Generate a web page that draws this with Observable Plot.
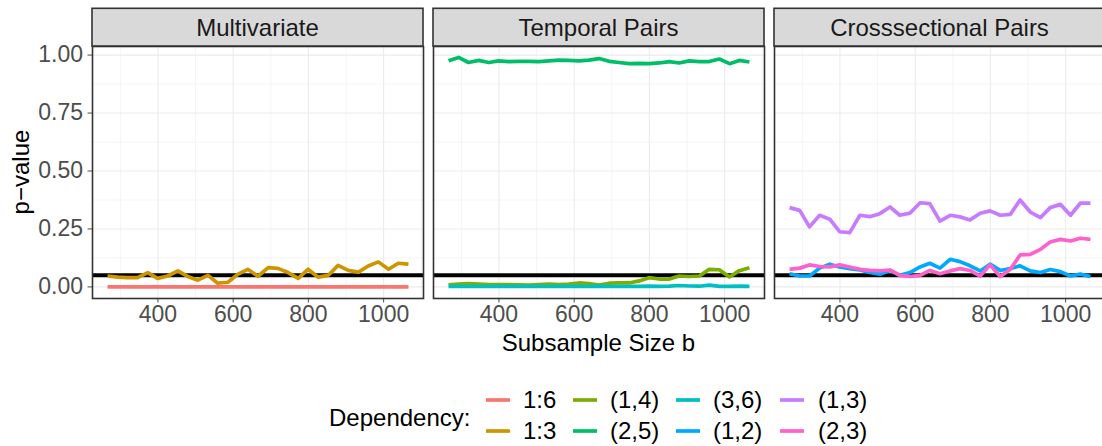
<!DOCTYPE html>
<html>
<head>
<meta charset="utf-8">
<script src="https://cdn.jsdelivr.net/npm/d3@7"></script>
<script src="https://cdn.jsdelivr.net/npm/@observablehq/plot@0.6"></script>
<style>
  html, body { margin: 0; padding: 0; background: #ffffff; }
  #chart { position: relative; width: 1102px; height: 446px; overflow: hidden; background: #ffffff; }
  #chart svg { position: absolute; }
</style>
</head>
<body>
<div id="chart"></div>
<script>
// ---------------- data ----------------
const panels = ["Multivariate", "Temporal Pairs", "Crosssectional Pairs"];
const deps = ["1:6", "1:3", "(1,4)", "(2,5)", "(3,6)", "(1,2)", "(1,3)", "(2,3)"];
const depColors = ["#F8766D", "#CD9600", "#7CAE00", "#00BE67", "#00BFC4", "#00A9FF", "#C77CFF", "#FF61CC"];

const subsampleSize = [266, 293, 319, 346, 373, 399, 426, 453, 479, 506, 533, 559, 586, 613, 639, 666,
                       693, 719, 746, 773, 799, 826, 853, 879, 906, 933, 959, 986, 1013, 1039, 1066];

// Multivariate
const mv_1_6 = [0, 0, 0, 0, 0, 0, 0, 0, 0, 0, 0, 0, 0, 0, 0, 0,
                0, 0, 0, 0, 0, 0, 0, 0, 0, 0, 0, 0, 0, 0, 0];
const mv_1_3 = [0.047, 0.042, 0.040, 0.040, 0.062, 0.037, 0.047, 0.069, 0.045, 0.029, 0.050, 0.016, 0.020, 0.055, 0.076, 0.046,
                0.083, 0.080, 0.062, 0.037, 0.076, 0.042, 0.050, 0.093, 0.071, 0.064, 0.090, 0.108, 0.076, 0.102, 0.098];
// Temporal pairs
const tp_1_4 = [0.009, 0.012, 0.014, 0.012, 0.010, 0.010, 0.010, 0.009, 0.008, 0.010, 0.012, 0.010, 0.012, 0.017, 0.014, 0.008,
                0.016, 0.017, 0.017, 0.026, 0.040, 0.034, 0.034, 0.047, 0.045, 0.047, 0.076, 0.074, 0.043, 0.070, 0.083];
const tp_2_5 = [0.975, 0.990, 0.968, 0.977, 0.968, 0.975, 0.972, 0.973, 0.973, 0.972, 0.975, 0.978, 0.977, 0.975, 0.978, 0.985,
                0.973, 0.968, 0.963, 0.964, 0.963, 0.966, 0.972, 0.966, 0.975, 0.972, 0.972, 0.983, 0.963, 0.977, 0.970];
const tp_3_6 = [0.002, 0.002, 0.002, 0.002, 0.002, 0.002, 0.002, 0.002, 0.002, 0.002, 0.002, 0.002, 0.002, 0.002, 0.002, 0.003,
                0.002, 0.002, 0.002, 0.002, 0.003, 0.002, 0.003, 0.006, 0.004, 0.003, 0.008, 0.002, 0.002, 0.003, 0.002];
// Crosssectional pairs
const cs_1_2 = [0.057, 0.047, 0.047, 0.081, 0.098, 0.086, 0.079, 0.073, 0.062, 0.055, 0.071, 0.050, 0.062, 0.086, 0.102, 0.081,
                0.119, 0.109, 0.091, 0.069, 0.098, 0.071, 0.079, 0.091, 0.069, 0.062, 0.075, 0.066, 0.047, 0.055, 0.045];
const cs_1_3 = [0.342, 0.330, 0.259, 0.309, 0.292, 0.238, 0.234, 0.309, 0.303, 0.316, 0.345, 0.309, 0.318, 0.363, 0.359, 0.284,
                0.309, 0.302, 0.289, 0.318, 0.328, 0.309, 0.313, 0.375, 0.323, 0.299, 0.342, 0.356, 0.309, 0.361, 0.361];
const cs_2_3 = [0.076, 0.081, 0.095, 0.088, 0.086, 0.095, 0.086, 0.076, 0.071, 0.069, 0.073, 0.050, 0.045, 0.050, 0.071, 0.057,
                0.069, 0.079, 0.071, 0.047, 0.095, 0.045, 0.076, 0.138, 0.140, 0.162, 0.194, 0.205, 0.198, 0.210, 0.205];

const threshold = 0.05;
const xMajor = [400, 600, 800, 1000];
const xMinor = [300, 500, 700, 900, 1100];
const yMajor = [0, 0.25, 0.5, 0.75, 1];
const yMinor = [0.125, 0.375, 0.625, 0.875];

const xTitle = "Subsample Size b";
const yTitle = "p\u2212value";
const legendTitle = "Dependency:";

const panelSeries = [
  [["1:6", mv_1_6], ["1:3", mv_1_3]],
  [["(1,4)", tp_1_4], ["(2,5)", tp_2_5], ["(3,6)", tp_3_6]],
  [["(1,2)", cs_1_2], ["(1,3)", cs_1_3], ["(2,3)", cs_2_3]]
];

// ---------------- layout ----------------
const FONT = "'Liberation Sans', Arial, Helvetica, sans-serif";
const FS_TICK = 23;
const FS = 24;
const panelLeft = [92, 433, 774];
const panelW = 331;
const panelTop = 46, panelBottom = 298;
const stripTop = 8.3;
const svgH = 340;

const chart = document.getElementById("chart");

panels.forEach((name, i) => {
  const rows = panelSeries[i].flatMap(([dep, vals]) =>
    subsampleSize.map((b, k) => ({b, p: vals[k], dep})));
  const first = i === 0;
  const mL = first ? panelLeft[0] : 4;
  const mR = 4;
  const plot = Plot.plot({
    width: mL + panelW + mR,
    height: svgH,
    marginTop: panelTop,
    marginBottom: svgH - panelBottom,
    marginLeft: mL,
    marginRight: mR,
    style: {fontFamily: FONT, fontSize: FS_TICK + "px", color: "#4D4D4D", background: "transparent",
            maxWidth: "none", overflow: "visible"},
    x: {domain: [226, 1106], ticks: xMajor, tickSize: 4.5, tickPadding: 2.5,
        tickFormat: d => String(d), label: null},
    y: {domain: [-0.05, 1.037], ticks: yMajor, tickSize: 4.5, tickPadding: 5,
        tickFormat: d3.format(".2f"), label: null, axis: first ? "left" : null},
    color: {domain: deps, range: depColors},
    marks: [
      Plot.ruleX(xMinor, {stroke: "#EBEBEB", strokeWidth: 0.55}),
      Plot.ruleY(yMinor, {stroke: "#EBEBEB", strokeWidth: 0.55}),
      Plot.ruleX(xMajor, {stroke: "#EBEBEB", strokeWidth: 1.1}),
      Plot.ruleY(yMajor, {stroke: "#EBEBEB", strokeWidth: 1.1}),
      Plot.ruleY([threshold], {stroke: "#000000", strokeWidth: 4}),
      Plot.line(rows, {x: "b", y: "p", stroke: "dep", strokeWidth: 3.7,
                       strokeLinejoin: "round", strokeLinecap: "butt"}),
      Plot.frame({stroke: "#333333", strokeWidth: 1.6})
    ]
  });
  plot.style.left = (panelLeft[i] - mL) + "px";
  plot.style.top = "0px";
  chart.appendChild(plot);
});

// ---------------- overlay: strips, titles, legend ----------------
const ov = d3.select(chart).append("svg")
  .attr("width", 1102).attr("height", 446)
  .style("left", "0px").style("top", "0px")
  .style("font-family", FONT).style("font-size", FS + "px");

panels.forEach((name, i) => {
  ov.append("rect")
    .attr("x", panelLeft[i]).attr("y", stripTop)
    .attr("width", panelW).attr("height", panelTop - stripTop)
    .attr("fill", "#D9D9D9").attr("stroke", "#333333").attr("stroke-width", 1.6);
  ov.append("text")
    .attr("x", panelLeft[i] + panelW / 2).attr("y", (stripTop + panelTop) / 2)
    .attr("dy", "0.35em").attr("text-anchor", "middle").attr("fill", "#1A1A1A")
    .text(name);
});

ov.append("text").attr("x", panelLeft[1] + panelW / 2).attr("y", 351)
  .attr("text-anchor", "middle").attr("fill", "#000").text(xTitle);

ov.append("text").attr("transform", `translate(29,${(panelTop + panelBottom) / 2}) rotate(-90)`)
  .attr("text-anchor", "middle").attr("fill", "#000").text(yTitle);

// legend
ov.append("text").attr("x", 329).attr("y", 418).attr("dy", "0.35em").attr("fill", "#000").text(legendTitle);
const colKey = [486, 573, 676, 780];
const colLabel = [523, 610, 713, 818];
const rowY = [400, 431];
deps.forEach((d, j) => {
  const c = Math.floor(j / 2), r = j % 2;
  ov.append("line").attr("x1", colKey[c]).attr("x2", colKey[c] + 24)
    .attr("y1", rowY[r]).attr("y2", rowY[r])
    .attr("stroke", depColors[j]).attr("stroke-width", 3.7);
  ov.append("text").attr("x", colLabel[c]).attr("y", rowY[r]).attr("dy", "0.35em")
    .attr("fill", "#000").text(d);
});
</script>
</body>
</html>
